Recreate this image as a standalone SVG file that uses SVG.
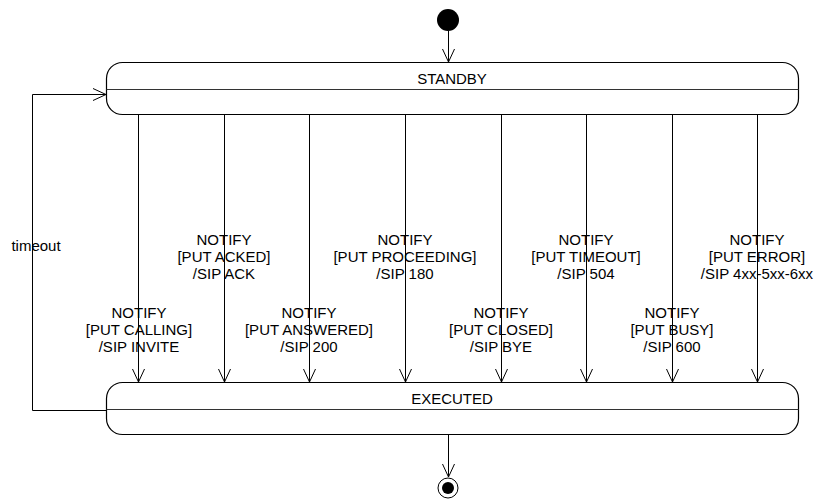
<svg xmlns="http://www.w3.org/2000/svg" width="814" height="501" viewBox="0 0 814 501">
<defs>
<marker id="open" markerWidth="16" markerHeight="16" refX="14" refY="8" orient="auto" markerUnits="userSpaceOnUse">
<path d="M1,2 L14,8 L1,14" fill="none" stroke="#000" stroke-width="1"/>
</marker>
<style>
.box{fill:#fff;stroke:#000;stroke-width:1.2}
.div{stroke:#333;stroke-width:1.2}
.ln{fill:none;stroke:#000;stroke-width:1;marker-end:url(#open)}
text{font-family:"Liberation Sans",Arial,sans-serif;font-size:15px;fill:#000;text-anchor:middle}
</style>
</defs>
<rect width="814" height="501" fill="#fff"/>
<g id="initial"><circle cx="448" cy="20" r="11" fill="#000"/></g>
<g id="standby">
<rect class="box" x="106.5" y="62.5" width="692" height="52" rx="16"/>
<line class="div" x1="106.5" y1="89.5" x2="798.5" y2="89.5"/>
<text x="452" y="84">STANDBY</text>
</g>
<g id="executed">
<rect class="box" x="106.5" y="382.5" width="692" height="52" rx="16"/>
<line class="div" x1="106.5" y1="409.5" x2="798.5" y2="409.5"/>
<text x="452" y="404">EXECUTED</text>
</g>
<g id="final">
<circle cx="448" cy="488" r="10" fill="#fff" stroke="#000" stroke-width="1"/>
<circle cx="448" cy="488" r="6" fill="#000"/>
</g>
<g id="connectors">
<line class="ln" x1="448.5" y1="31" x2="448.5" y2="62"/>
<line class="ln" x1="448.5" y1="435" x2="448.5" y2="477"/>
<path class="ln" d="M106,410.5 H32.5 V94.5 H106"/>
<line class="ln" x1="138.5" y1="115" x2="138.5" y2="382"/>
<line class="ln" x1="224.5" y1="115" x2="224.5" y2="382"/>
<line class="ln" x1="309.5" y1="115" x2="309.5" y2="382"/>
<line class="ln" x1="405.5" y1="115" x2="405.5" y2="382"/>
<line class="ln" x1="501.5" y1="115" x2="501.5" y2="382"/>
<line class="ln" x1="586.5" y1="115" x2="586.5" y2="382"/>
<line class="ln" x1="672.5" y1="115" x2="672.5" y2="382"/>
<line class="ln" x1="757.5" y1="115" x2="757.5" y2="382"/>
</g>
<g id="labels">
<text x="36" y="251">timeout</text>
<text x="224" y="245">NOTIFY</text><text x="224" y="262">[PUT ACKED]</text><text x="224" y="279">/SIP ACK</text>
<text x="405" y="245">NOTIFY</text><text x="405" y="262">[PUT PROCEEDING]</text><text x="405" y="279">/SIP 180</text>
<text x="586" y="245">NOTIFY</text><text x="586" y="262">[PUT TIMEOUT]</text><text x="586" y="279">/SIP 504</text>
<text x="757" y="245">NOTIFY</text><text x="757" y="262">[PUT ERROR]</text><text x="757" y="279">/SIP 4xx-5xx-6xx</text>
<text x="139" y="318">NOTIFY</text><text x="139" y="335">[PUT CALLING]</text><text x="139" y="352">/SIP INVITE</text>
<text x="309" y="318">NOTIFY</text><text x="309" y="335">[PUT ANSWERED]</text><text x="309" y="352">/SIP 200</text>
<text x="501" y="318">NOTIFY</text><text x="501" y="335">[PUT CLOSED]</text><text x="501" y="352">/SIP BYE</text>
<text x="672" y="318">NOTIFY</text><text x="672" y="335">[PUT BUSY]</text><text x="672" y="352">/SIP 600</text>
</g>
</svg>
